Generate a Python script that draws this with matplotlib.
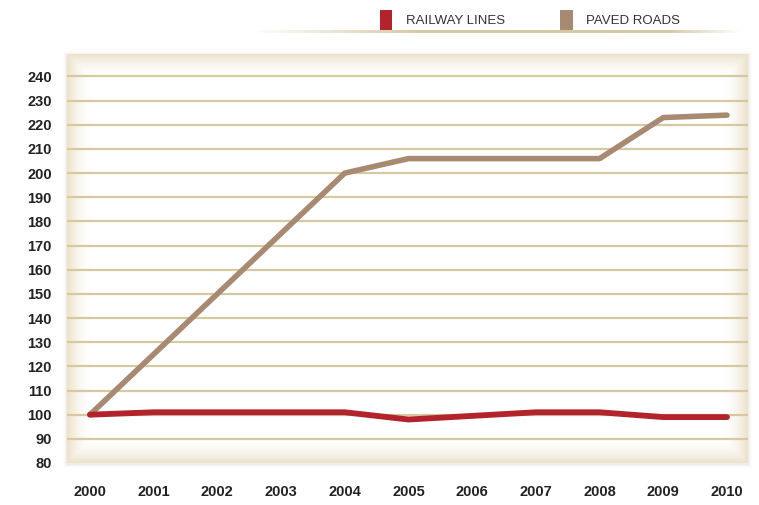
import numpy as np
import matplotlib
matplotlib.use("Agg")
import matplotlib.pyplot as plt
from matplotlib.patches import Patch, Rectangle

years = [2000, 2001, 2002, 2003, 2004, 2005, 2006, 2007, 2008, 2009, 2010]
railway_lines = [100, 101, 101, 101, 101, 98, 99.5, 101, 101, 99, 99]
paved_roads = [100, 125, 150, 175, 200, 206, 206, 206, 206, 223, 224]
y_ticks = list(range(80, 241, 10))
series_names = ["RAILWAY LINES", "PAVED ROADS"]
series_colors = ["#b3232b", "#a88a72"]

plt.rcParams['font.family'] = ['Liberation Sans', 'DejaVu Sans']

W, H = 759, 505
fig = plt.figure(figsize=(W / 100, H / 100), dpi=100)
fig.patch.set_facecolor("white")

L, R, T, B = 67, 748, 54, 463
ax = fig.add_axes([L / W, 1 - B / H, (R - L) / W, (B - T) / H])

# drop shadow around plot box
for i, a in enumerate([0.10, 0.06, 0.035, 0.02]):
    d = i + 1
    fig.patches.append(Rectangle(((L - d) / W, 1 - (B + d + 1) / H),
                                 (R - L + 2 * d) / W, (B - T + 2 * d) / H,
                                 transform=fig.transFigure, facecolor="#b8a888",
                                 alpha=a, edgecolor="none", zorder=-1))

# vignette background
nx, ny = 400, 300
xx = np.linspace(0, 1, nx)
yy = np.linspace(0, 1, ny)
X, Y = np.meshgrid(xx, yy)
pxw, pxh = (R - L), (B - T)
dx = np.minimum(X, 1 - X) * pxw
dy = np.minimum(Y, 1 - Y) * pxh
d = np.minimum(dx, dy)
strength = np.clip(1 - d / 24.0, 0, 1) ** 1.8
base = np.array([1.0, 1.0, 1.0])
edge = np.array([0xec, 0xe3, 0xcd]) / 255.0
img = base[None, None, :] * (1 - strength[..., None]) + edge[None, None, :] * strength[..., None]
ax.imshow(img, extent=[0, 1, 0, 1], transform=ax.transAxes, aspect="auto", zorder=0,
          interpolation="bilinear")

for v in y_ticks[1:]:
    ax.axhline(v, color="#d6c9a2", lw=1.6, zorder=1)

ax.plot(years, paved_roads, color=series_colors[1], lw=4.0, solid_joinstyle="round",
        solid_capstyle="round", zorder=3)
ax.plot(years, railway_lines, color=series_colors[0], lw=4.2, solid_joinstyle="round",
        solid_capstyle="round", zorder=4)

ax.set_xlim(1999.64, 2010.33)
ax.set_ylim(81.2, 249.3)
ax.set_xticks(years)
ax.set_xticklabels([str(y) for y in years], fontsize=10.5, fontweight="bold", color="#222222")
ax.set_yticks(y_ticks)
ax.set_yticklabels([str(v) for v in y_ticks], fontsize=10.5, fontweight="bold", color="#222222")
ax.tick_params(length=0)
ax.tick_params(axis="x", pad=16)
ax.tick_params(axis="y", pad=11)
for s in ax.spines.values():
    s.set_visible(False)

# legend underline with fading ends
lax = fig.add_axes([250 / W, 1 - 33 / H, 492 / W, 3 / H])
t = np.linspace(0, 1, 300)
alpha = np.clip(np.minimum(t / 0.35, (1 - t) / 0.15), 0, 1)
col = np.array([0xd7, 0xc8, 0xa4]) / 255.0
line_img = np.ones((1, 300, 4))
line_img[..., :3] = col
line_img[..., 3] = alpha
lax.imshow(line_img, aspect="auto", extent=[0, 1, 0, 1])
lax.axis("off")

handles = [Patch(facecolor=c, edgecolor="none", label=n) for n, c in zip(series_names, series_colors)]
leg = fig.legend(handles=handles, loc="center left", bbox_to_anchor=(368 / W, 1 - 20 / H),
                 ncol=2, frameon=False, handlelength=0.95, handleheight=1.9,
                 handletextpad=1.0, columnspacing=4.2, prop={"size": 9.5})
for txt in leg.get_texts():
    txt.set_color("#333333")

fig.savefig("out.png", dpi=100, facecolor="white")
